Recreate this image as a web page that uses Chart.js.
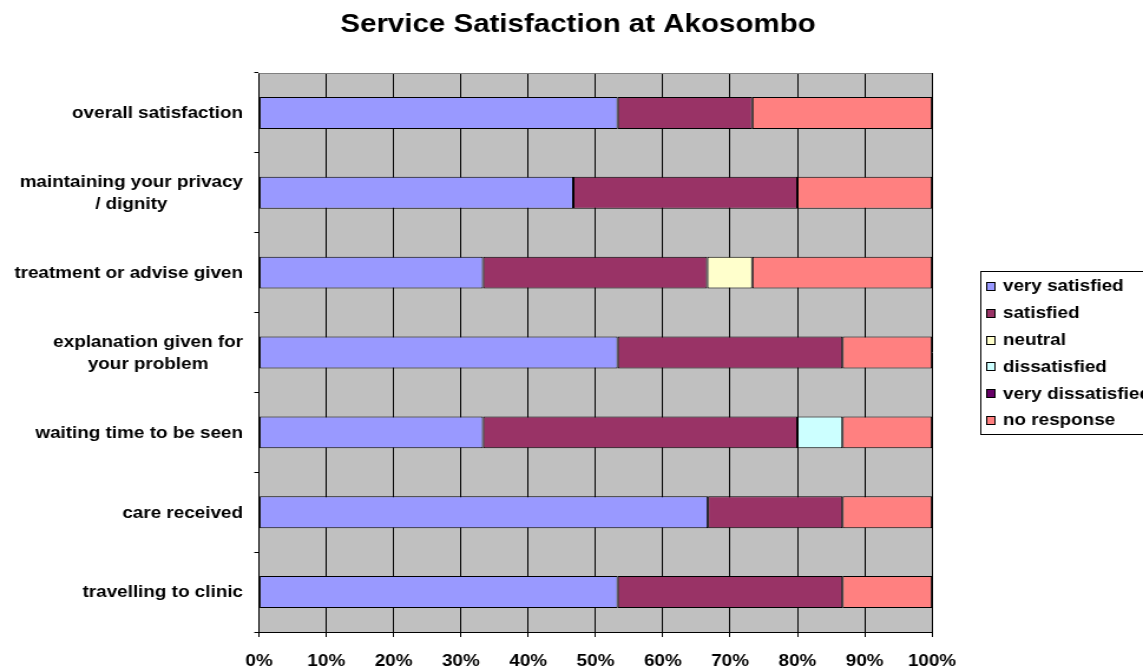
<!DOCTYPE html>
<html>
<head>
<meta charset="utf-8">
<title>Service Satisfaction at Akosombo</title>
<script src="https://cdn.jsdelivr.net/npm/chart.js@4.4.1/dist/chart.umd.min.js"></script>
<style>
  html, body { margin: 0; padding: 0; background: #fff; overflow: hidden; }
</style>
</head>
<body>
<!-- the reference is stretched sideways, so the canvas is drawn narrower and widened by an inline style -->
<canvas id="chart" width="969" height="667" style="display:block;width:1143px;height:667px"></canvas>
<script>
// categories, top to bottom
const categories = [
    'overall satisfaction',
    ['maintaining your privacy', '/ dignity'],
    'treatment or advise given',
    ['explanation given for', 'your problem'],
    'waiting time to be seen',
    'care received',
    'travelling to clinic'
];

// percent of answers per category
const verySatisfied    = [53.3, 46.7, 33.3, 53.3, 33.3, 66.7, 53.3];
const satisfied        = [20.0, 33.3, 33.3, 33.4, 46.7, 20.0, 33.4];
const neutral          = [0, 0, 6.7, 0, 0, 0, 0];
const dissatisfied     = [0, 0, 0, 0, 6.7, 0, 0];
const veryDissatisfied = [0, 0, 0, 0, 0, 0, 0];
const noResponse       = [26.7, 20.0, 26.7, 13.3, 13.3, 13.3, 13.3];

const xTicks = [0, 10, 20, 30, 40, 50, 60, 70, 80, 90, 100];

const seriesNames = ['very satisfied', 'satisfied', 'neutral', 'dissatisfied', 'very dissatisfied', 'no response'];
const seriesColors = ['#9999FF', '#993366', '#FFFFCC', '#CCFFFF', '#660066', '#FF8080'];
const seriesData = [verySatisfied, satisfied, neutral, dissatisfied, veryDissatisfied, noResponse];

const TITLE = 'Service Satisfaction at Akosombo';
const FONT = '"Liberation Sans", Arial, sans-serif';
const SX = 1143 / 969; // horizontal stretch of the reference

// grey plot area
const plotBackground = {
    id: 'plotBackground',
    beforeDraw(chart) {
        const a = chart.chartArea, ctx = chart.ctx;
        ctx.save();
        ctx.fillStyle = '#C0C0C0';
        ctx.fillRect(a.left, a.top, a.right - a.left, a.bottom - a.top);
        ctx.restore();
    },
    afterDatasetsDraw(chart) {
        const a = chart.chartArea, ctx = chart.ctx;
        ctx.save();
        ctx.strokeStyle = '#808080';
        ctx.lineWidth = 1;
        ctx.beginPath();
        ctx.moveTo(a.left, a.top + 0.5);
        ctx.lineTo(a.right, a.top + 0.5);
        ctx.stroke();
        ctx.restore();
    }
};

// title centred on the whole picture, not on the area left of the legend
const pageTitle = {
    id: 'pageTitle',
    afterDraw(chart) {
        const ctx = chart.ctx;
        ctx.save();
        ctx.font = 'bold 25px ' + FONT;
        ctx.fillStyle = '#000';
        ctx.textAlign = 'center';
        ctx.textBaseline = 'middle';
        ctx.fillText(TITLE, 578 / SX, 25);
        ctx.restore();
    }
};

// category labels: right aligned block, lines centred inside it
const categoryLabels = {
    id: 'categoryLabels',
    afterDraw(chart) {
        const ctx = chart.ctx, yScale = chart.scales.y;
        const right = 243 / SX;
        ctx.save();
        ctx.font = 'bold 16px ' + FONT;
        ctx.fillStyle = '#000';
        ctx.textAlign = 'center';
        ctx.textBaseline = 'middle';
        categories.forEach(function(label, i) {
            const lines = Array.isArray(label) ? label : [label];
            const w = Math.max.apply(null, lines.map(l => ctx.measureText(l).width));
            const cx = right - w / 2;
            const cy = yScale.getPixelForValue(i) + 1;
            const lh = 22;
            lines.forEach(function(line, j) {
                ctx.fillText(line, cx, cy + (j - (lines.length - 1) / 2) * lh);
            });
        });
        ctx.restore();
    }
};

// boxed legend on the right, running off the edge like the original
const boxLegend = {
    id: 'boxLegend',
    afterDraw(chart) {
        const ctx = chart.ctx;
        const left = 980 / SX, top = 271, bottom = 434;
        ctx.save();
        ctx.fillStyle = '#fff';
        ctx.fillRect(left, top, chart.width - left + 5, bottom - top);
        ctx.strokeStyle = '#000';
        ctx.lineWidth = 1;
        ctx.strokeRect(Math.round(left) + 0.5, top + 0.5, chart.width, bottom - top);
        ctx.font = 'bold 16px ' + FONT;
        ctx.textAlign = 'left';
        ctx.textBaseline = 'middle';
        chart.data.datasets.forEach(function(ds, i) {
            const y = 286 + i * 26.8;
            const sx = Math.round(986 / SX);
            ctx.fillStyle = ds.backgroundColor;
            ctx.fillRect(sx, Math.round(y - 4), 7, 8);
            ctx.strokeStyle = '#000';
            ctx.strokeRect(sx + 0.5, Math.round(y - 4) + 0.5, 7, 8);
            ctx.fillStyle = '#000';
            ctx.fillText(ds.label, 1003 / SX, y + 1);
        });
        ctx.restore();
    }
};

const datasets = seriesNames.map(function(name, i) {
    return {
        label: name,
        data: seriesData[i],
        backgroundColor: seriesColors[i],
        borderColor: '#000',
        borderWidth: 1,
        borderSkipped: false,
        barPercentage: 0.4,
        categoryPercentage: 1.0
    };
});

new Chart(document.getElementById('chart').getContext('2d'), {
    type: 'bar',
    data: { labels: categories, datasets: datasets },
    plugins: [plotBackground, pageTitle, categoryLabels, boxLegend],
    options: {
        indexAxis: 'y',
        responsive: false,
        devicePixelRatio: 1,
        animation: false,
        layout: { padding: { left: 0, right: 969 - 932 / SX, top: 73, bottom: 0 } },
        plugins: {
            legend: { display: false },
            tooltip: { enabled: false },
            title: { display: false }
        },
        scales: {
            x: {
                stacked: true,
                min: 0,
                max: 100,
                afterBuildTicks(scale) {
                    scale.ticks = xTicks.map(v => ({ value: v }));
                },
                afterFit(scale) { scale.height = 667 - 632; },
                ticks: {
                    color: '#000',
                    padding: 15,
                    maxRotation: 0,
                    font: { family: FONT, size: 16, weight: 'bold' },
                    callback: v => v + '%'
                },
                grid: { color: '#000', lineWidth: 1, tickLength: 5, drawOnChartArea: true },
                border: { display: true, color: '#000', width: 1 }
            },
            y: {
                stacked: true,
                afterFit(scale) { scale.width = 259 / SX; },
                ticks: { display: false },
                grid: { offset: true, drawOnChartArea: false, drawTicks: true, tickLength: 4, color: '#000' },
                border: { display: true, color: '#000', width: 1 }
            }
        }
    }
});
</script>
</body>
</html>
